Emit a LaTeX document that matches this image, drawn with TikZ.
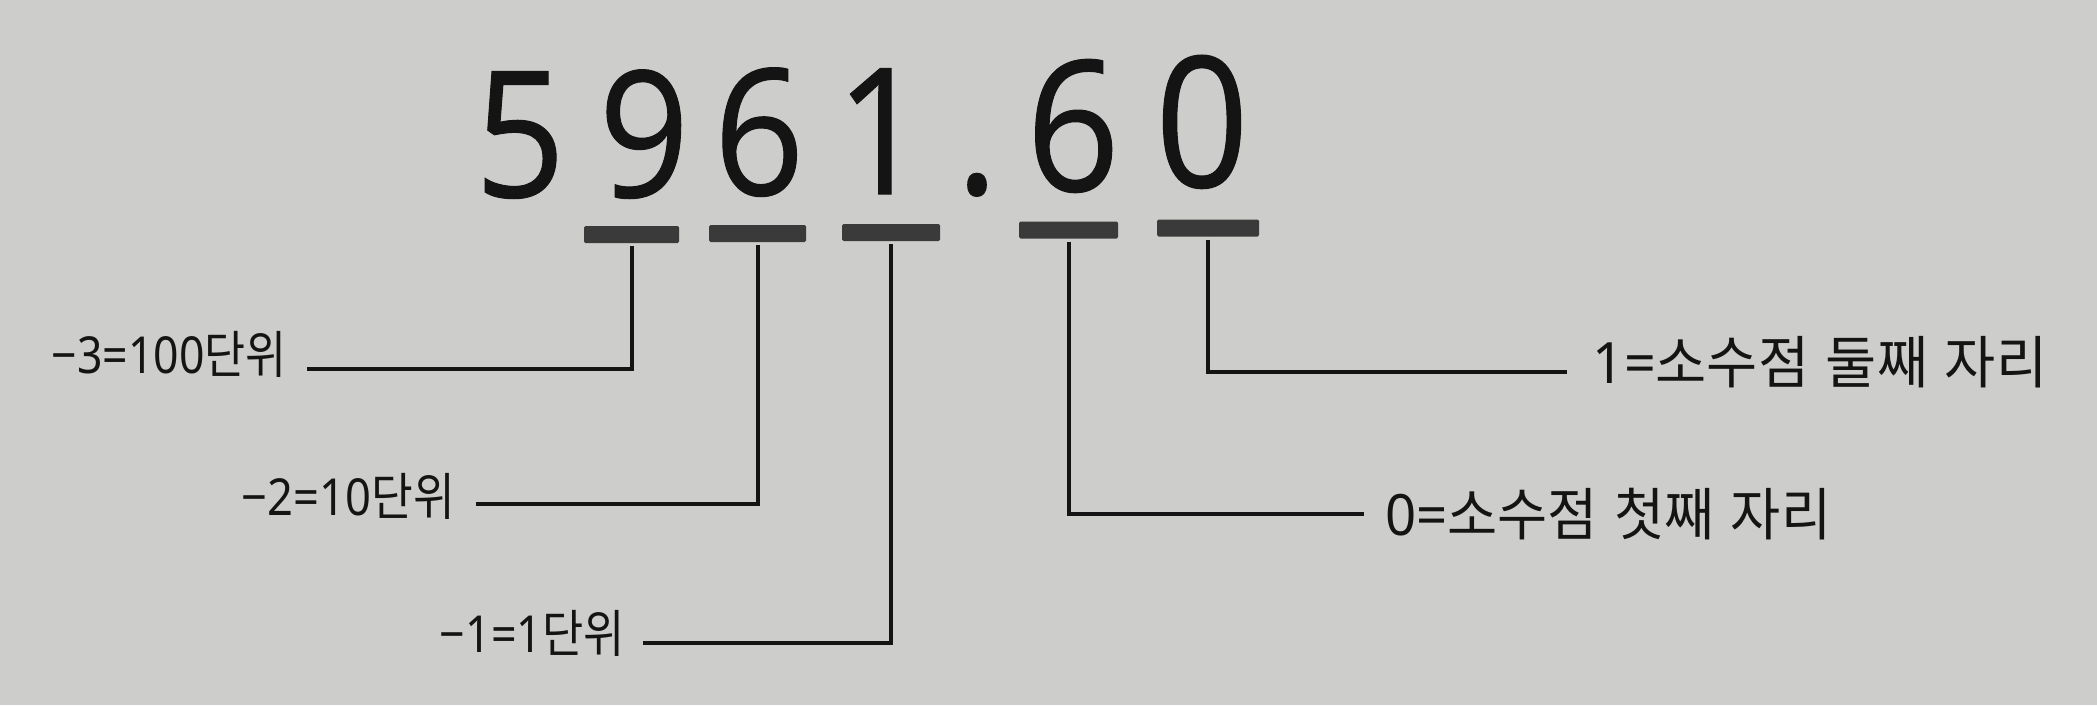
\documentclass[tikz,border=0pt]{standalone}
\usepackage{fontspec}
\usepackage{graphicx}
\setmainfont{Noto Sans}
\newfontfamily\krfont{Noto Sans CJK KR}
\newfontfamily\bignum[FakeBold=0.6]{Open Sans}
\definecolor{paper}{RGB}{205,205,203}
\definecolor{inkc}{RGB}{20,20,20}
\definecolor{barc}{RGB}{58,58,58}
\newcommand\wsp{\hspace{0.3em}}
\newcommand\dg[1]{\scalebox{0.9}[1]{#1}}
\newcommand\lblL[3]{\resizebox{#1pt}{\height}{\fontsize{51}{51}\selectfont #2{\krfont #3}}}
\newcommand\lblR[3]{\resizebox{#1pt}{\height}{\fontsize{57}{57}\selectfont #2{\krfont #3}}}
\begin{document}
\begin{tikzpicture}[x=1pt,y=-1pt,
  digit/.style={anchor=base, inner sep=0pt, text=inkc},
  dsmall/.style={digit, font=\bignum\fontsize{176}{176}\selectfont},
  dbig/.style={digit, font=\bignum\fontsize{182}{182}\selectfont},
  barbox/.style={fill=barc, draw=none, rounded corners=1.5pt, minimum height=17pt, inner sep=0pt},
  lbl/.style={inner sep=0pt, text=inkc},
  conn/.style={draw=inkc, line width=4pt, shorten <=3pt}]
\fill[paper] (0,0) rectangle (2097,705);
\useasboundingbox (0,0) rectangle (2097,705);
% big number
\node[dsmall] (d1) at (520,197) {\dg{5}};
\node[dsmall] (d2) at (644,197) {\dg{9}};
\node[dsmall] (d3) at (759,195) {\dg{6}};
\node[dsmall] (d4) at (881,194) {\dg{1}};
\node[dsmall] (d5) at (977,194) {\dg{.}};
\node[dbig] (d6) at (1073,191) {\dg{6}};
\node[dbig] (d7) at (1202,187) {\dg{0}};
% bars
\node[barbox, minimum width=95pt] (b1) at (631.5,234.5) {};
\node[barbox, minimum width=97pt] (b2) at (757.5,233.5) {};
\node[barbox, minimum width=98pt] (b3) at (891,232.5) {};
\node[barbox, minimum width=99pt] (b4) at (1068.5,230) {};
\node[barbox, minimum width=102pt] (b5) at (1208,228) {};
% labels
\node[lbl, anchor=base east] (L3) at (287,373) {\lblL{235}{−3=100}{단위}};
\node[lbl, anchor=base east] (L2) at (455,515) {\lblL{213}{−2=10}{단위}};
\node[lbl, anchor=base east] (L1) at (625,652) {\lblL{185}{−1=1}{단위}};
\node[lbl, anchor=base west] (R0) at (1385,535) {\lblR{446}{0=}{소수점\wsp 첫째\wsp 자리}};
\node[lbl, anchor=base west] (R1) at (1592,383) {\lblR{455}{1=}{소수점\wsp 둘째\wsp 자리}};
% connectors
\draw[conn, shorten >=20pt] (b1.south) |- ([yshift=4pt]L3.base east);
\draw[conn, shorten >=21pt] (b2.south) |- ([yshift=11pt]L2.base east);
\draw[conn, shorten >=18pt] (b3.south) |- ([yshift=9pt]L1.base east);
\draw[conn, shorten >=21pt] (b4.south) |- ([yshift=21pt]R0.base west);
\draw[conn, shorten >=25pt] (b5.south) |- ([yshift=11pt]R1.base west);
\end{tikzpicture}
\end{document}
